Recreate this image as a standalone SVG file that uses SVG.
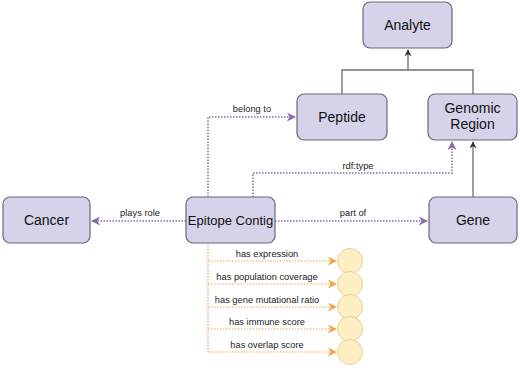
<svg xmlns="http://www.w3.org/2000/svg" width="520" height="368" viewBox="0 0 520 368">
<style>
.node rect{fill:#d5d2ea;stroke:#6b6878;stroke-width:1.2}
.node text{font-family:"Liberation Sans",Arial,sans-serif;font-size:14px;fill:#111;text-anchor:middle}
.solid{fill:none;stroke:#6e6e6e;stroke-width:1.3}
.purple{fill:none;stroke:#8a6ca8;stroke-width:1.5;stroke-dasharray:1.5 1.5}
.orange{fill:none;stroke:#f2a648;stroke-width:1.2;stroke-dasharray:1.5 1.5}
.lbl{font-family:"Liberation Sans",Arial,sans-serif;font-size:9.3px;fill:#222;text-anchor:middle}
.circ{fill:#fcefc4;stroke:#e9d290;stroke-width:1}
</style>
<defs>
<marker id="ab" viewBox="0 0 10 10" refX="9" refY="5" markerWidth="7" markerHeight="7" orient="auto" markerUnits="userSpaceOnUse"><path d="M0,0 L10,5 L0,10 L3,5 Z" fill="#333"/></marker>
<marker id="ap" viewBox="0 0 10 10" refX="9" refY="5" markerWidth="9" markerHeight="9" orient="auto" markerUnits="userSpaceOnUse"><path d="M0,0 L10,5 L0,10 L3,5 Z" fill="#8a6ca8"/></marker>
<marker id="ao" viewBox="0 0 10 10" refX="9" refY="5" markerWidth="9" markerHeight="9" orient="auto" markerUnits="userSpaceOnUse"><path d="M0,0 L10,5 L0,10 L3,5 Z" fill="#f2a648"/></marker>
</defs>
<rect width="520" height="368" fill="#fff"/>
<g id="connectors">
<path class="solid" d="M342,94 V70 H473 V94 M408,70 V50" marker-end="url(#ab)"/>
<path class="solid" d="M473,197 V142" marker-end="url(#ab)"/>
<path class="purple" d="M208,197 V117 H295" marker-end="url(#ap)"/>
<text class="lbl" x="252" y="112">belong to</text>
<path class="purple" d="M253,197 V173 H452 V142" marker-end="url(#ap)"/>
<text class="lbl" x="358" y="169">rdf:type</text>
<path class="purple" d="M186,221 H92" marker-end="url(#ap)"/>
<text class="lbl" x="140" y="216">plays role</text>
<path class="purple" d="M275,221 H427" marker-end="url(#ap)"/>
<text class="lbl" x="353" y="216">part of</text>
<path class="orange" d="M208,243 V352"/>
<path class="orange" d="M208,261 H336" marker-end="url(#ao)"/>
<path class="orange" d="M208,284 H336" marker-end="url(#ao)"/>
<path class="orange" d="M208,307 H336" marker-end="url(#ao)"/>
<path class="orange" d="M208,329 H336" marker-end="url(#ao)"/>
<path class="orange" d="M208,352 H336" marker-end="url(#ao)"/>
<text class="lbl" x="267" y="257">has expression</text>
<text class="lbl" x="267" y="280">has population coverage</text>
<text class="lbl" x="267" y="303">has gene mutational ratio</text>
<text class="lbl" x="267" y="325">has immune score</text>
<text class="lbl" x="267" y="348">has overlap score</text>
</g>
<g id="analyte" class="node"><rect x="363" y="2" width="89" height="46" rx="7"/><text x="407.5" y="30">Analyte</text></g>
<g id="peptide" class="node"><rect x="297" y="94" width="90" height="46" rx="7"/><text x="342" y="122">Peptide</text></g>
<g id="genomic-region" class="node"><rect x="428" y="94" width="89" height="46" rx="7"/><text x="472.5" y="113">Genomic</text><text x="472.5" y="129">Region</text></g>
<g id="cancer" class="node"><rect x="3" y="197" width="87" height="46" rx="7"/><text x="46.5" y="225">Cancer</text></g>
<g id="epitope-contig" class="node"><rect x="186" y="197" width="89" height="46" rx="7"/><text x="230.5" y="225" style="font-size:13px">Epitope Contig</text></g>
<g id="gene" class="node"><rect x="429" y="197" width="88" height="46" rx="7"/><text x="473" y="225">Gene</text></g>
<g id="v1"><circle class="circ" cx="350" cy="261" r="12.5"/></g>
<g id="v2"><circle class="circ" cx="350" cy="284" r="12.5"/></g>
<g id="v3"><circle class="circ" cx="350" cy="307" r="12.5"/></g>
<g id="v4"><circle class="circ" cx="350" cy="329" r="12.5"/></g>
<g id="v5"><circle class="circ" cx="350" cy="352" r="12.5"/></g>
</svg>
